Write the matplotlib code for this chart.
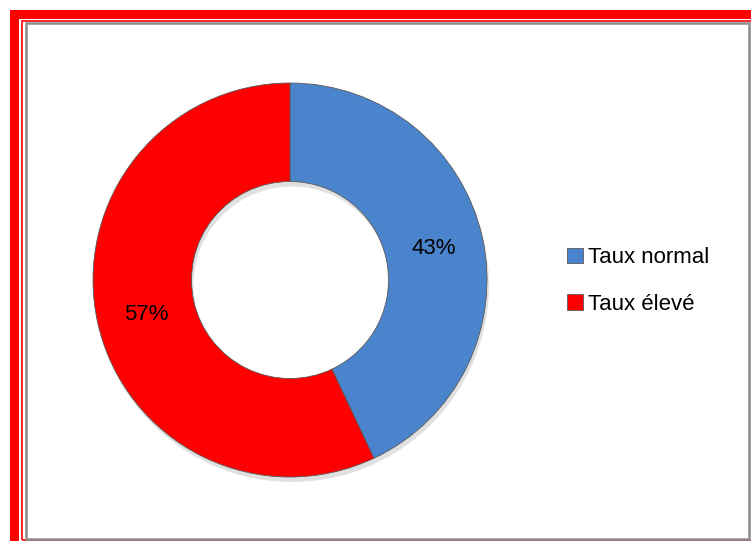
import matplotlib.pyplot as plt
from matplotlib.patches import Rectangle

labels = ["Taux normal", "Taux élevé"]
values = [43, 57]
colors = ["#4a84cc", "#ff0000"]

W, H = 751, 541
fig = plt.figure(figsize=(W / 100, H / 100), dpi=100)

# frame: thick red band, thin red line, gray box
def box(x0, y0, x1, y1, **kw):
    fig.patches.append(Rectangle((x0 / W, 1 - y1 / H), (x1 - x0) / W, (y1 - y0) / H,
                                 transform=fig.transFigure, **kw))

box(10, 10, W + 5, 19, facecolor="#ff0000", edgecolor="none")
box(10, 10, 19, H + 5, facecolor="#ff0000", edgecolor="none")
box(21.5, 20.5, W + 5, H - 1, facecolor="none", edgecolor="#ff0000", linewidth=1.2)
box(26, 22.5, 749, 538.5, facecolor="none", edgecolor="#8c8c8c", linewidth=1.8)

cx, cy, r = 290, 280, 197
ax = fig.add_axes([(cx - r) / W, (H - cy - r) / H, 2 * r / W, 2 * r / H])
ax.axis("off")

# soft shadow under the ring
ax.pie([1], radius=1.0, center=(0.01, -0.025), colors=["#e0e0e0"],
       wedgeprops=dict(width=0.5, edgecolor="none"), frame=False)
wedges, _ = ax.pie(values, startangle=90, counterclock=False, colors=colors,
                   radius=1.0, wedgeprops=dict(width=0.5, edgecolor="#5a5a5a", linewidth=0.6),
                   frame=False)
ax.set_xlim(-1, 1)
ax.set_ylim(-1, 1)
ax.set_aspect("equal")

ax.text((434 - cx) / r, (cy - 248) / r, f"{values[0]}%", ha="center", va="center",
        fontsize=16, family="Liberation Sans")
ax.text((146 - cx) / r, (cy - 314) / r, f"{values[1]}%", ha="center", va="center",
        fontsize=16, family="Liberation Sans")

fig.legend(wedges, labels, loc="center left", bbox_to_anchor=(547 / W, 1 - 281 / H),
           frameon=False, handlelength=0.7, handleheight=0.7, handletextpad=0.25,
           labelspacing=1.15, prop=dict(family="Liberation Sans", size=16))

fig.savefig("out.png", dpi=100)
